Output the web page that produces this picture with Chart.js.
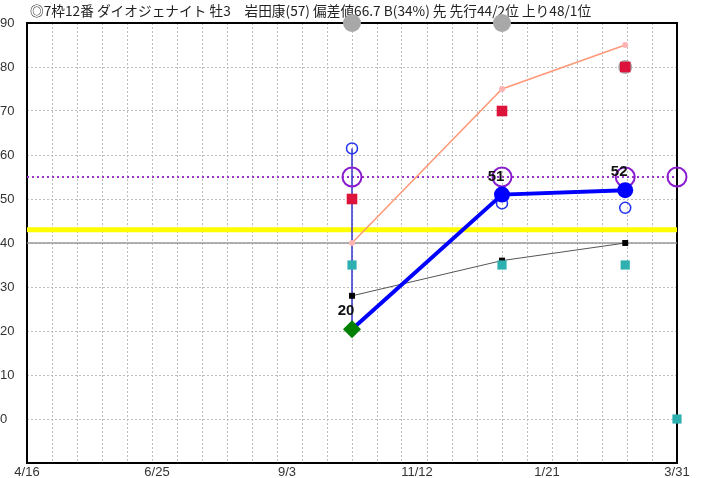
<!DOCTYPE html>
<html>
<head>
<meta charset="utf-8">
<script src="https://cdn.jsdelivr.net/npm/chart.js@4"></script>
<style>
  html, body { margin: 0; padding: 0; background: #fff; }
</style>
</head>
<body>
<canvas id="grafico" width="709" height="478"></canvas>
<script>
// Dados do gráfico
const titulo = '◎7枠12番 ダイオジェナイト 牡3　岩田康(57) 偏差値66.7 B(34%) 先 先行44/2位 上り48/1位';
const rotulosX = ['4/16', '6/25', '9/3', '11/12', '1/21', '3/31'];
const diaFinal = 364;
const diasCorrida = [182, 266, 335];      // dias desde 4/16
const indice = [20.4, 51, 52];            // linha azul grossa
const rosa = [40, 75, 85];                // linha salmão
const preto = [28, 36, 40];               // linha preta fina
const vermelho = [50, 70, 80];
const cinza = [90, 90, 80];
const azulAberto = [61.5, 49, 48];
const turquesa = [35, 35, 35, 0];
const roxo = [55, 55, 55, 55];
const diasComFinal = diasCorrida.concat([diaFinal]);
const linhaCinza = 40;
const linhaAmarela = 43;
const linhaRoxa = 55;

const pontos = (xs, ys) => ys.map((y, i) => ({ x: xs[i], y: y }));
const horizontal = (y) => [{ x: 0, y: y }, { x: diaFinal, y: y }];

// Ticks do eixo X: grade a cada 14 dias + posições dos rótulos
const passoRotulo = diaFinal / (rotulosX.length - 1);
const ehGrade = (v) => Math.abs(v / 14 - Math.round(v / 14)) < 0.001;
const indiceRotulo = (v) => {
    const i = Math.round(v / passoRotulo);
    return Math.abs(i * passoRotulo - v) < 0.01 ? i : -1;
};

const pluginTitulo = {
    id: 'titulo',
    beforeDraw(chart) {
        const ctx = chart.ctx;
        ctx.save();
        ctx.fillStyle = '#fff';
        ctx.fillRect(0, 0, chart.width, chart.height);
        ctx.font = '13.7px "Noto Sans CJK JP"';
        ctx.fillStyle = '#222';
        ctx.textBaseline = 'middle';
        ctx.fillText(titulo, 30, 11);
        ctx.restore();
    }
};

const pluginMoldura = {
    id: 'moldura',
    beforeDatasetsDraw(chart) {
        const a = chart.chartArea;
        const ctx = chart.ctx;
        ctx.save();
        ctx.strokeStyle = '#000';
        ctx.lineWidth = 2;
        ctx.strokeRect(a.left, a.top, a.right - a.left, a.bottom - a.top);
        ctx.restore();
    }
};

const pluginValores = {
    id: 'valores',
    afterDatasetsDraw(chart) {
        const ctx = chart.ctx;
        const sx = chart.scales.x, sy = chart.scales.y;
        ctx.save();
        ctx.font = 'bold 15px "Liberation Sans"';
        ctx.fillStyle = '#111';
        ctx.textAlign = 'center';
        ctx.textBaseline = 'middle';
        indice.forEach((v, i) => {
            ctx.fillText(String(Math.round(v)), sx.getPixelForValue(diasCorrida[i]) - 6, sy.getPixelForValue(v) - 18);
        });
        ctx.restore();
    }
};

const config = {
    type: 'line',
    data: {
        datasets: [
            {   // linha azul grossa
                data: pontos(diasCorrida, indice),
                borderColor: '#0000ff', borderWidth: 4,
                pointStyle: ['rectRot', 'circle', 'circle'],
                pointRadius: [9, 8, 8],
                pointBackgroundColor: ['#008000', '#0000ff', '#0000ff'],
                pointBorderColor: ['#008000', '#0000ff', '#0000ff'],
                pointBorderWidth: 0,
                clip: false, order: 1
            },
            {
                data: pontos(diasCorrida, azulAberto),
                showLine: false, pointStyle: 'circle', pointRadius: 5.5,
                pointBackgroundColor: 'rgba(0,0,0,0)', pointBorderColor: '#2233ee', pointBorderWidth: 1.5,
                order: 2
            },
            {
                data: pontos(diasComFinal, roxo),
                showLine: false, pointStyle: 'circle', pointRadius: 9.5,
                pointBackgroundColor: 'rgba(0,0,0,0)', pointBorderColor: '#8a1ccf', pointBorderWidth: 2,
                clip: false, order: 3
            },
            {
                data: pontos(diasCorrida, vermelho),
                showLine: false, pointStyle: 'rect', pointRadius: 7.5,
                pointBackgroundColor: '#dc143c', pointBorderWidth: 0,
                order: 4
            },
            {
                data: pontos(diasCorrida, cinza),
                showLine: false, pointStyle: 'circle', pointRadius: [9, 9, 7],
                pointBackgroundColor: '#a8a8a8', pointBorderWidth: 0,
                clip: false, order: 5
            },
            {
                data: pontos(diasComFinal, turquesa),
                showLine: false, pointStyle: 'rect', pointRadius: 6.5,
                pointBackgroundColor: '#2eb0b0', pointBorderWidth: 0,
                clip: false, order: 6
            },
            {   // linha preta fina
                data: pontos(diasCorrida, preto),
                borderColor: '#555', borderWidth: 1,
                pointStyle: 'rect', pointRadius: 4.2,
                pointBackgroundColor: '#000', pointBorderWidth: 0,
                order: 7
            },
            {   // linha salmão
                data: pontos(diasCorrida, rosa),
                borderColor: '#ff9977', borderWidth: 1.5,
                pointStyle: 'circle', pointRadius: 3,
                pointBackgroundColor: '#ffb4b4', pointBorderWidth: 0,
                order: 8
            },
            {   // faixa vertical da primeira corrida
                data: [{ x: diasCorrida[0], y: indice[0] }, { x: diasCorrida[0], y: azulAberto[0] }],
                borderColor: '#3333cc', borderWidth: 1.5, pointRadius: 0,
                order: 9
            },
            {
                data: horizontal(linhaRoxa),
                borderColor: '#9a33cc', borderWidth: 2, borderDash: [2, 3], pointRadius: 0,
                order: 10
            },
            {
                data: horizontal(linhaAmarela),
                borderColor: '#ffff00', borderWidth: 5, pointRadius: 0,
                order: 11
            },
            {
                data: horizontal(linhaCinza),
                borderColor: '#9a9a9a', borderWidth: 1.5, pointRadius: 0,
                order: 12
            }
        ]
    },
    options: {
        responsive: false,
        animation: false,
        layout: { padding: { top: 23, right: 32, bottom: 0, left: 0 } },
        plugins: {
            legend: { display: false },
            tooltip: { enabled: false }
        },
        scales: {
            x: {
                type: 'linear',
                min: 0, max: diaFinal,
                afterBuildTicks(axis) {
                    const t = [];
                    for (let v = 0; v <= diaFinal + 0.001; v += 14) t.push({ value: v });
                    rotulosX.forEach((r, i) => {
                        const v = i * passoRotulo;
                        if (!t.some(o => Math.abs(o.value - v) < 0.01)) t.push({ value: v });
                    });
                    t.sort((a, b) => a.value - b.value);
                    axis.ticks = t;
                },
                afterFit(axis) { axis.height = 15; },
                grid: {
                    drawTicks: false,
                    color: (c) => (c.tick && ehGrade(c.tick.value)) ? '#bdbdbd' : 'rgba(0,0,0,0)',
                    lineWidth: 1
                },
                border: { display: false, dash: [2, 2] },
                ticks: {
                    autoSkip: false, maxRotation: 0, padding: 2,
                    color: '#333', font: { family: 'Liberation Sans', size: 13 },
                    callback: (v) => { const i = indiceRotulo(v); return i >= 0 ? rotulosX[i] : ''; }
                }
            },
            y: {
                min: -10, max: 90,
                afterFit(axis) { axis.width = 27; },
                grid: { drawTicks: false, color: '#bdbdbd', lineWidth: 1 },
                border: { display: false, dash: [2, 2] },
                ticks: {
                    stepSize: 10, crossAlign: 'far', padding: 2,
                    color: '#333', font: { family: 'Liberation Sans', size: 13 },
                    callback: (v) => v === -10 ? '' : v
                }
            }
        }
    },
    plugins: [pluginTitulo, pluginMoldura, pluginValores]
};

const meuGrafico = new Chart(document.getElementById('grafico'), config);
</script>
</body>
</html>
